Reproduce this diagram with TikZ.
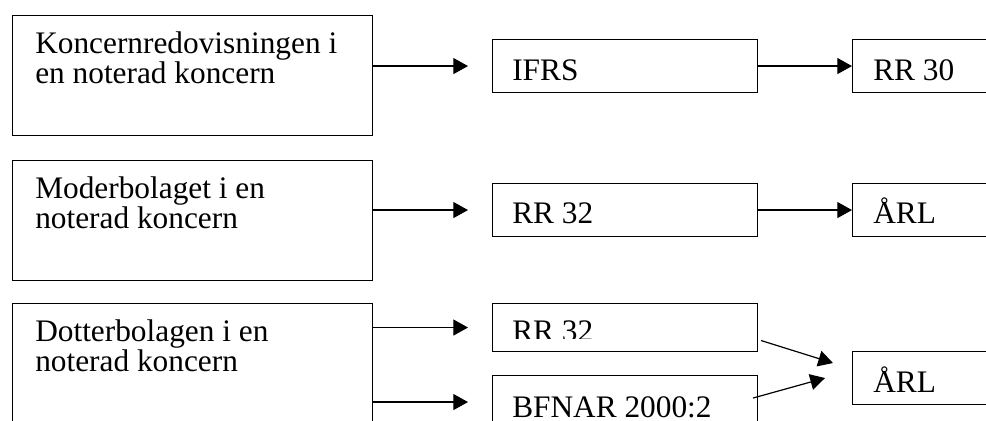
\documentclass[tikz,border=0pt]{standalone}
\usepackage{fontspec}
\setmainfont{Liberation Serif}
\usetikzlibrary{arrows.meta}
\tikzset{
  bigbox/.style={draw, line width=0.8pt, anchor=north west, inner sep=0pt,
    minimum width=270pt, minimum height=90pt},
  smallbox/.style={draw, line width=0.8pt, anchor=north west, inner sep=0pt,
    minimum width=198.75pt, minimum height=39.75pt},
  endbox/.style={smallbox, minimum width=135pt},
  boxtext/.style={anchor=base west, inner sep=0pt, align=left,
    font=\fontsize{23.5}{21}\selectfont},
  arr/.style={line width=0.9pt, -{Triangle[length=11pt,width=12pt]}}
}
\begin{document}
\begin{tikzpicture}[x=0.75pt,y=-0.75pt]
    \clip (0,0) rectangle (986,421);
    % Row 1: listed group, consolidated accounts
    \node[bigbox] (koncern) at (12,15) {};
    \node[boxtext] (koncerntxt) at (35,83) {Koncernredovisningen i\\en noterad koncern};
    \node[smallbox] (ifrs) at (492,39) {};
    \node[boxtext] (ifrstxt) at (512,80) {IFRS};
    \node[endbox] (rrtrettio) at (852,39) {};
    \node[boxtext] (rrtrettiotxt) at (873,80) {RR 30};
    % Row 2: parent company
    \node[bigbox] (moder) at (12,160) {};
    \node[boxtext] (modertxt) at (35,228) {Moderbolaget i en\\noterad koncern};
    \node[smallbox] (rrb) at (492,183) {};
    \node[boxtext] (rrbtxt) at (512,223) {RR 32};
    \node[endbox] (arlb) at (852,183) {};
    \node[boxtext] (arlbtxt) at (873,223) {ÅRL};
    % Row 3: subsidiaries
    \node[bigbox, minimum height=100pt] (dotter) at (12,303) {};
    \node[boxtext] (dottertxt) at (35,371) {Dotterbolagen i en\\noterad koncern};
    \node[smallbox, minimum height=36pt] (rrc) at (492,303) {};
    \begin{scope}
        \clip (492,303) rectangle (757,338);
        \node[boxtext] (rrctxt) at (512,341) {RR 32};
    \end{scope}
    \node[smallbox] (bfnar) at (492,375) {};
    \node[boxtext] (bfnartxt) at (512,417) {BFNAR 2000:2};
    \node[endbox] (arlc) at (852,351) {};
    \node[boxtext] (arlctxt) at (873,392) {ÅRL};
    % Arrows
    \draw[arr] (koncern.east |- ifrs.west) -- ([xshift=-18pt]ifrs.west);
    \draw[arr] (ifrs.east) -- (rrtrettio.west);
    \draw[arr] (moder.east |- rrb.west) -- ([xshift=-18pt]rrb.west);
    \draw[arr] (rrb.east) -- (arlb.west);
    \draw[arr] (dotter.east |- rrc.west) -- ([xshift=-18pt]rrc.west);
    \draw[arr] (dotter.east |- bfnar.west) -- ([xshift=-18pt]bfnar.west);
    \draw[arr] ([shift={(3,13)}]rrc.east) -- ([shift={(-19,-15)}]arlc.west);
    \draw[arr] ([shift={(-5,-4)}]bfnar.east) -- ([shift={(-27,0)}]arlc.west);
\end{tikzpicture}
\end{document}
